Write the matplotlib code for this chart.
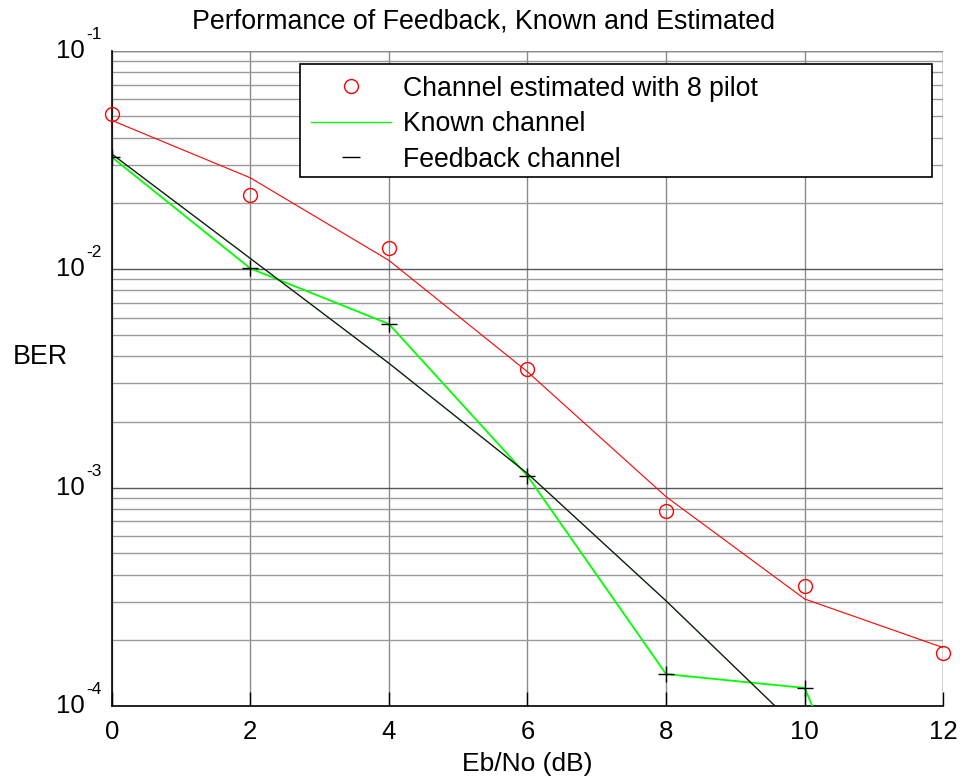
import numpy as np
import matplotlib
matplotlib.use("Agg")
from matplotlib import pyplot as plt
from matplotlib.lines import Line2D
from matplotlib.patches import Rectangle
from matplotlib import transforms
from matplotlib.ticker import FixedLocator, NullFormatter

plt.rcParams['font.family'] = ['Liberation Sans', 'DejaVu Sans']

# Eb/No values (dB)
snr_db = [0, 2, 4, 6, 8, 10, 12]

# channel estimated with 8 pilots: simulated points and fitted curve
est_points = [0.0515, 0.0219, 0.01253, 0.0035, 0.000783, 0.000356, 0.000174]
est_curve = [0.048, 0.0262, 0.01097, 0.00339, 0.000908, 0.000309, 0.000185]

# known channel (green) and its simulated points (+)
known_curve = [0.0326, 0.01008, 0.00561, 0.00113, 0.000140, 0.000121, 0.0000038]

# feedback channel (dark line)
feedback_curve = [0.0337, 0.0112, 0.00371, 0.00116, 0.000303, 0.000074, 0.000018]

x_ticks = [0, 2, 4, 6, 8, 10, 12]
decades = [1e-4, 1e-3, 1e-2, 1e-1]
exponents = ["-4", "-3", "-2", "-1"]

fig = plt.figure(figsize=(9.67, 7.78), dpi=100)
ax = fig.add_axes([0.1155, 0.0925, 0.86, 0.8423])

ax.semilogy(snr_db, est_curve, color='#ff0000', lw=0.8, zorder=3)
ax.semilogy(snr_db, known_curve, color='#00ff00', lw=1.3, zorder=3)
ax.semilogy(snr_db, feedback_curve, color='#0a200a', lw=1.0, zorder=3)
ax.semilogy(snr_db, est_points, 'o', color='#ff0000', mfc='none', ms=10, mew=1.0, zorder=4, clip_on=False)
ax.semilogy(snr_db, known_curve, '+', color='black', ms=12, mew=1.0, zorder=4)

ax.set_xlim(0, 12)
ax.set_ylim(1e-4, 1e-1)

# grid, MATLAB style
ax.yaxis.set_minor_locator(FixedLocator([m * d for d in decades[:-1] for m in range(2, 10)]))
ax.yaxis.set_minor_formatter(NullFormatter())
ax.grid(True, which='minor', axis='y', color='#9a9a9a', lw=1.0)
ax.grid(True, which='major', axis='y', color='#555555', lw=1.0)
ax.grid(True, which='major', axis='x', color='#8a8a8a', lw=1.0)
ax.set_axisbelow(True)

for side in ['top', 'right']:
    ax.spines[side].set_visible(False)
ax.spines['left'].set_linewidth(1.2)
ax.spines['bottom'].set_linewidth(1.2)
ax.axhline(1e-1, color='#8a8a8a', lw=1.0, zorder=1)
ax.axvline(12, color='#8a8a8a', lw=1.0, zorder=1)

ax.set_xticks(x_ticks)
ax.set_xticklabels([str(v) for v in x_ticks], fontsize=18.5)
ax.tick_params(axis='x', direction='in', length=10, width=1.0, pad=10)
ax.tick_params(axis='y', which='both', direction='in', length=0)

# y labels as 10 with exponent
ax.set_yticks(decades)
ax.set_yticklabels([])
trans = transforms.blended_transform_factory(ax.transAxes, ax.transData)
for d, e in zip(decades, exponents):
    ax.text(-0.032, d, "10", transform=trans, ha='right', va='center', fontsize=18.5)
    ax.text(-0.031, d * 10 ** (0.04), e, transform=trans, ha='left', va='bottom', fontsize=12.5)

fig.text(0.5, 1 - 22 / 778, "Performance of Feedback, Known and Estimated", ha='center', va='center', fontsize=19.3)
fig.text(0.5455, 1 - 764 / 778, "Eb/No (dB)", ha='center', va='center', fontsize=19)
fig.text(40 / 967, 1 - 357 / 778, "BER", ha='center', va='center', fontsize=19.3)

# legend box drawn by hand so its size matches
box = Rectangle((300 / 967, 1 - 176.7 / 778), 632.3 / 967, 112.4 / 778, transform=fig.transFigure,
                facecolor='white', edgecolor='black', lw=1.2, zorder=4.9, clip_on=False)
ax.add_patch(box)

handles = [
    Line2D([], [], marker='o', ls='none', color='#ff0000', mfc='none', ms=10, mew=1.0),
    Line2D([], [], color='#00ff00', lw=1.0),
    Line2D([], [], marker='_', ls='none', color='black', ms=13, mew=1.0),
]
labels = ["Channel estimated with 8 pilot", "Known channel", "Feedback channel"]
leg = ax.legend(handles, labels, loc='upper left',
                bbox_to_anchor=(300 / 967, 1 - 64.3 / 778),
                bbox_transform=fig.transFigure, borderaxespad=0,
                fontsize=19.2, frameon=False, handlelength=3.0,
                handletextpad=0.45, labelspacing=0.36, borderpad=0.42)
leg.set_zorder(5)

plt.savefig("out.png", dpi=100)
